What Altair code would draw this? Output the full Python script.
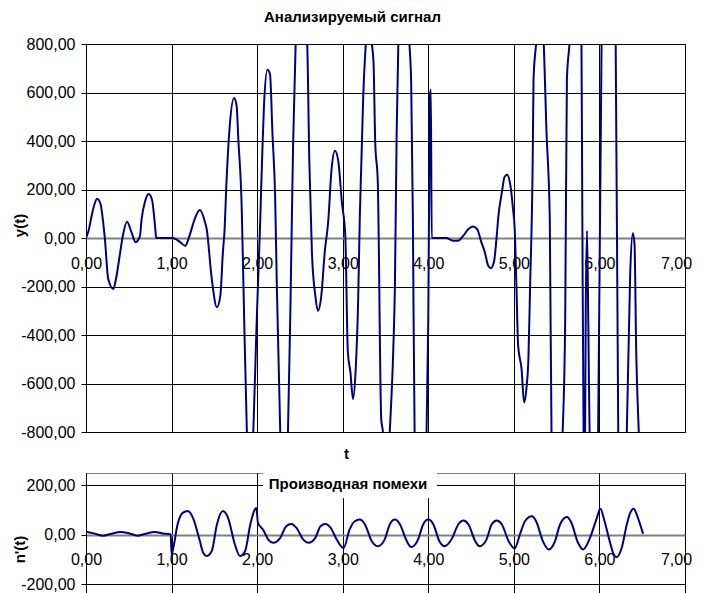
import altair as alt
import pandas as pd

# ---------------- data ----------------
T_SIG = [0.00, 0.03, 0.066, 0.10, 0.13, 0.17, 0.20, 0.22, 0.26, 0.32, 0.35, 0.40, 0.43, 0.48,
         0.53, 0.58, 0.63, 0.65, 0.69, 0.73, 0.77, 0.81, 0.82, 0.90, 1.00,
         1.05, 1.10, 1.16, 1.21, 1.27, 1.33, 1.39, 1.41, 1.47, 1.53, 1.57, 1.60, 1.62, 1.64,
         1.68, 1.73, 1.76, 1.78, 1.82, 1.84, 1.88, 1.92, 1.955, 1.994, 2.033, 2.063, 2.08,
         2.12, 2.15, 2.18, 2.21, 2.23, 2.27, 2.31, 2.36, 2.39, 2.42, 2.45, 2.515, 2.585, 2.61,
         2.64, 2.68, 2.71, 2.75, 2.79, 2.83, 2.87, 2.91, 2.95, 2.99, 3.03, 3.06, 3.09, 3.12,
         3.15, 3.18, 3.20, 3.24, 3.27, 3.30, 3.34, 3.36, 3.38, 3.41, 3.45, 3.47, 3.51, 3.55,
         3.59, 3.61, 3.63, 3.65, 3.715, 3.78, 3.80, 3.82, 3.84, 3.91, 3.98, 4.00, 4.02, 4.03,
         4.04, 4.21, 4.29, 4.35, 4.41, 4.47, 4.52, 4.57, 4.62, 4.66, 4.70, 4.73, 4.77, 4.80,
         4.82, 4.86, 4.89, 4.92, 4.96, 4.99, 5.01, 5.03, 5.05, 5.09, 5.12, 5.15, 5.17, 5.19,
         5.22, 5.23, 5.26, 5.305, 5.35, 5.38, 5.42, 5.44, 5.505, 5.57, 5.60, 5.62, 5.65, 5.72,
         5.79, 5.80, 5.815, 5.83, 5.84, 5.855, 5.87, 5.885, 5.94, 5.985, 6.025, 6.10, 6.19,
         6.22, 6.27, 6.32, 6.36, 6.39, 6.41, 6.43, 6.46, 6.50]
Y_SIG = [0, 30, 92, 140, 162, 140, 66, 0, -169, -210, -169, -58, 8, 67,
         25, -17, 8, 78, 150, 181, 160, 37, 0, 0, 0,
         -5, -17, -32, 10, 78, 115, 66, 37, -169, -286, -238, -58, 37, 216,
         463, 577, 546, 408, 120, -197, -800, -1050, -800, -350, 40, 380, 546,
         694, 676, 422, 175, -197, -800, -1100, -800, -264, 380, 800, 1100, 800, 313,
         -58, -238, -300, -238, -58, 66, 285, 360, 313, 148, 10, -470, -553, -664,
         -553, -264, 92, 587, 800, 900, 800, 725, 395, 230, -746, -800, -1100, -800,
         -470, -197, 422, 800, 1250, 800, 642, 80, -800, -1150, -800, -334, 587, 611,
         0, 0, -11, -11, 10, 37, 47, 37, -17, -58, -114, -125, -94, 10,
         92, 188, 251, 261, 216, 120, 37, -197, -444, -540, -678, -609, -499, -197,
         312, 656, 800, 1000, 800, 450, 78, -800, -1150, -800, -334, 656, 800, 1300,
         800, 100, -800, -950, -300, 30, -350, -800, -1000, -800, 800, 1200, 800,
         -800, -1150, -800, -141, 20, -25, -470, -800, -1100]

T_DER = [0.00, 0.10, 0.20, 0.30, 0.40, 0.50, 0.60, 0.70, 0.80, 0.90, 0.99, 1.00,
         1.02, 1.07, 1.13, 1.19, 1.25, 1.33, 1.37, 1.41, 1.47, 1.53, 1.60, 1.66, 1.74,
         1.80, 1.86, 1.92, 1.99, 2.01, 2.07, 2.13, 2.19, 2.27, 2.34, 2.40, 2.46, 2.54,
         2.60, 2.68, 2.74, 2.80, 2.86, 2.93, 3.01, 3.08, 3.14, 3.20, 3.26, 3.34, 3.41,
         3.49, 3.55, 3.61, 3.67, 3.75, 3.80, 3.88, 3.94, 4.00, 4.06, 4.13, 4.19, 4.27,
         4.35, 4.41, 4.47, 4.55, 4.60, 4.68, 4.74, 4.80, 4.86, 4.94, 5.01, 5.07, 5.13,
         5.21, 5.26, 5.34, 5.41, 5.48, 5.54, 5.62, 5.67, 5.75, 5.81, 5.89, 5.97, 6.01,
         6.06, 6.12, 6.16, 6.20, 6.26, 6.32, 6.36, 6.40, 6.45, 6.51]
N_DER = [13, 5, -3, 5, 12, 7, -3, 5, 12, 6, 2, -78,
         -53, 42, 89, 96, 69, -24, -73, -85, -65, 42, 96, 69, -39,
         -85, -65, 42, 109, 48, 21, -19, -32, -12, 35, 44, 28, -19,
         -32, -12, 35, 44, 28, -19, -53, 21, 55, 62, 42, -26, -46,
         -19, 42, 62, 42, -26, -49, -19, 42, 62, 42, -26, -46, -19,
         42, 58, 42, -26, -46, -19, 42, 58, 42, -26, -55, 1, 55,
         75, 55, -26, -59, -26, 42, 72, 51, -32, -59, -12, 69, 106,
         55, -26, -73, -90, -53, 42, 89, 106, 69, 4]

X_TICKS = [0, 1, 2, 3, 4, 5, 6, 7]
Y_TICKS_TOP = [-800, -600, -400, -200, 0, 200, 400, 600, 800]
Y_TICKS_BOT = [-200, 0, 200]
TITLE_TOP = "Анализируемый сигнал"
TITLE_BOT = "Производная помехи"

# ---------------- styling ----------------
FONT = "Liberation Sans"
LINE = "#000080"
FMT = "(datum.value < 0 ? '-' : '') + replace(format(abs(datum.value), '.2f'), '.', ',')"
W = 599
H1 = 388
Y1_DOM = [-800, 800]
Y2_DOM = [-360, 250]
H2 = round((Y2_DOM[1] - Y2_DOM[0]) * 0.2475)
POS1 = H1 * Y1_DOM[1] / (Y1_DOM[1] - Y1_DOM[0])   # pixel row of y = 0 in the top panel
POS2 = H2 * Y2_DOM[1] / (Y2_DOM[1] - Y2_DOM[0])   # pixel row of n = 0 in the bottom panel

df1 = pd.DataFrame({"t": T_SIG, "y": Y_SIG})
df2 = pd.DataFrame({"t": T_DER, "n": N_DER})
lab = pd.DataFrame({"label": [TITLE_BOT]})


def x_axis(h, pos, title, tx, ty):
    return alt.Axis(values=X_TICKS, offset=pos - h, grid=True, gridColor="#000000",
                    gridWidth=1, domainColor="#808080", domainWidth=2, ticks=False,
                    labelPadding=17, labelFont=FONT, labelFontSize=16, labelColor="#000000",
                    labelExpr=FMT, labelOverlap=False, labelFlush=False,
                    labelOffset={"condition": {"test": "datum.value == 7", "value": -9},
                                 "value": 0},
                    title=title, titleFont=FONT, titleFontSize=15, titleFontWeight="bold",
                    titleColor="#000000", titleX=tx, titleY=ty, titleBaseline="middle",
                    titleAlign="center")


def y_axis(vals, title, ty):
    return alt.Axis(values=vals, grid=True, gridColor="#000000", gridWidth=1,
                    domainColor="#000000", tickColor="#000000", tickSize=5,
                    labelPadding=6, labelFont=FONT, labelFontSize=16, labelColor="#000000",
                    labelExpr=FMT, labelOverlap=False, labelFlush=False,
                    title=title, titleFont=FONT, titleFontSize=15, titleFontWeight="bold",
                    titleColor="#000000", titleX=-67, titleY=ty, titleAngle=270,
                    titleBaseline="middle", titleAlign="center")


top = alt.Chart(df1).mark_line(color=LINE, strokeWidth=2, clip=True, interpolate="monotone").encode(
    x=alt.X("t:Q", scale=alt.Scale(domain=[0, 7], nice=False, zero=False),
            axis=x_axis(H1, POS1, "t", 260, 409 - POS1)),
    y=alt.Y("y:Q", scale=alt.Scale(domain=Y1_DOM, nice=False, zero=False),
            axis=y_axis(Y_TICKS_TOP, "y(t)", 181)),
).properties(
    width=W, height=H1,
    title=alt.TitleParams(TITLE_TOP, font=FONT, fontSize=15, fontWeight="bold",
                          color="#000000", anchor="middle", frame="group", dx=-33,
                          dy=-1, offset=10),
)

bx = alt.X("t:Q", scale=alt.Scale(domain=[0, 7], nice=False, zero=False),
           axis=x_axis(H2, POS2, "", 0, 0))
by = alt.Y("n:Q", scale=alt.Scale(domain=Y2_DOM, nice=False, zero=False),
           axis=y_axis(Y_TICKS_BOT, "n'(t)", 76))

bot_line = alt.Chart(df2).mark_line(color=LINE, strokeWidth=2, clip=True,
                                    interpolate="monotone").encode(x=bx, y=by)
box = alt.Chart(lab).mark_rect(color="#ffffff").encode(
    x=alt.value(177), x2=alt.value(351), y=alt.value(0), y2=alt.value(25))
txt = alt.Chart(lab).mark_text(font=FONT, fontSize=15, fontWeight="bold", color="#000000",
                               baseline="middle", align="center").encode(
    text="label:N", x=alt.value(262), y=alt.value(11))

bottom = alt.layer(box, bot_line, txt).properties(width=W, height=H2)

chart = alt.vconcat(top, bottom, spacing=10).properties(
    padding={"left": 3, "top": 1, "right": 0, "bottom": 0}
).configure_view(stroke="#808080", strokeWidth=1)

chart.save("out.html", embed_options={"renderer": "svg", "actions": False})
